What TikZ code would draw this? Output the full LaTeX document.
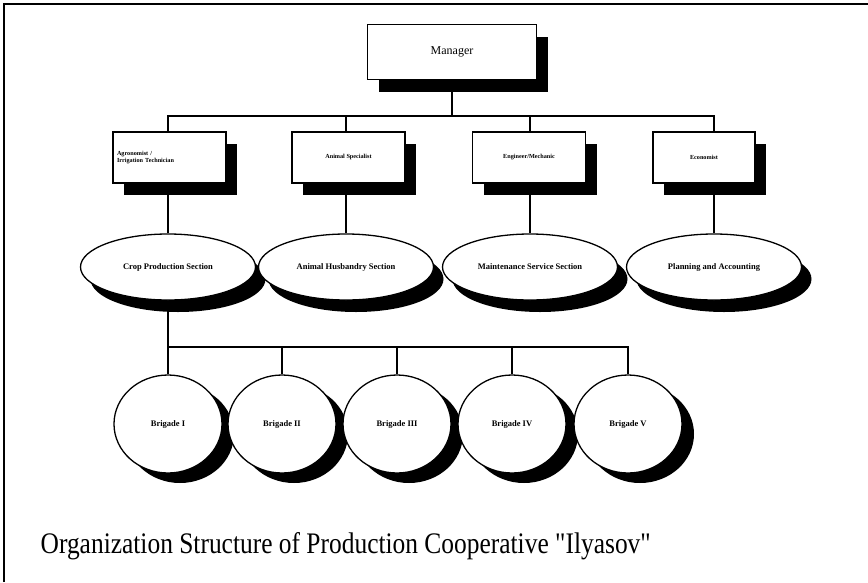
\documentclass[tikz,border=0pt]{standalone}
\usepackage{fontspec}
\setmainfont{Liberation Serif}
\newfontfamily\capfont{Liberation Serif}[Ligatures=TeXOff]
\usetikzlibrary{shadows,shapes.geometric,backgrounds}
\begin{document}
\begin{tikzpicture}[x=1pt,y=-1pt,line width=1.3pt,
  blkshadow/.style={general shadow={fill=black,shadow xshift=11pt,shadow yshift=-12pt}},
  postbox/.style={draw,fill=white,rectangle,minimum width=113pt,minimum height=51pt,
    inner sep=3pt,blkshadow,font=\fontsize{6.2}{7.5}\selectfont\bfseries,align=center},
  section/.style={draw,fill=white,ellipse,minimum width=175pt,minimum height=66pt,inner sep=0pt,
    general shadow={fill=black,shadow xshift=10pt,shadow yshift=-12pt},
    font=\fontsize{8.5}{10}\selectfont\bfseries},
  brigade/.style={draw,fill=white,ellipse,minimum width=108pt,minimum height=98pt,inner sep=0pt,
    general shadow={fill=black,shadow xshift=12pt,shadow yshift=-10pt},
    font=\fontsize{8.5}{10}\selectfont\bfseries},
  link/.style={line width=1.4pt}]
\useasboundingbox (0,0) rectangle (868,582);

% page frame
\draw[line width=1.1pt] (4,582) -- (4,4) -- (868,4);

% top level
\node[postbox,minimum width=169pt,minimum height=55pt,font=\fontsize{12}{14}\selectfont] (mgr) at (452,52) {Manager};

% specialists
\node[postbox,text width=105pt,align=left] (agr) at (169.5,157.5) {Agronomist /\\Irrigation Technician};
\node[postbox] (ani) at (348.5,157.5) {Animal Specialist};
\node[postbox] (eng) at (529,157.5) {Engineer/Mechanic};
\node[postbox,minimum width=102pt] (eco) at (704,157.5) {Economist};

% sections
\node[section] (crop) at (168,267) {Crop Production Section};
\node[section] (hus) at (346,267) {Animal Husbandry Section};
\node[section] (mnt) at (530,267) {Maintenance Service Section};
\node[section] (pla) at (714,267) {Planning and Accounting};

% brigades
\node[brigade] (b1) at (168,424) {Brigade I};
\node[brigade] (b2) at (282,424) {Brigade II};
\node[brigade] (b3) at (397,424) {Brigade III};
\node[brigade] (b4) at (512,424) {Brigade IV};
\node[brigade] (b5) at (628,424) {Brigade V};

\coordinate (busA) at (0,116);
\coordinate (busB) at (0,347);

\begin{scope}[on background layer]
  \draw[link] (mgr.south) -- (mgr.south |- busA);
  \draw[link] (crop.north) -- (crop.north |- busA) -- (pla.north |- busA) -- (pla.north);
  \draw[link] (hus.north |- busA) -- (hus.north);
  \draw[link] (mnt.north |- busA) -- (mnt.north);
  \draw[link] (crop.south) -- (b1.north);
  \draw[link] (crop.south |- busB) -- (b5.north |- busB) -- (b5.north);
  \draw[link] (b2.north |- busB) -- (b2.north);
  \draw[link] (b3.north |- busB) -- (b3.north);
  \draw[link] (b4.north |- busB) -- (b4.north);
\end{scope}

% caption
\node[anchor=base west,inner sep=0pt] (title) at (40,553)
  {\resizebox{610pt}{21pt}{\capfont Organization Structure of Production Cooperative "Ilyasov"}};
\end{tikzpicture}
\end{document}
